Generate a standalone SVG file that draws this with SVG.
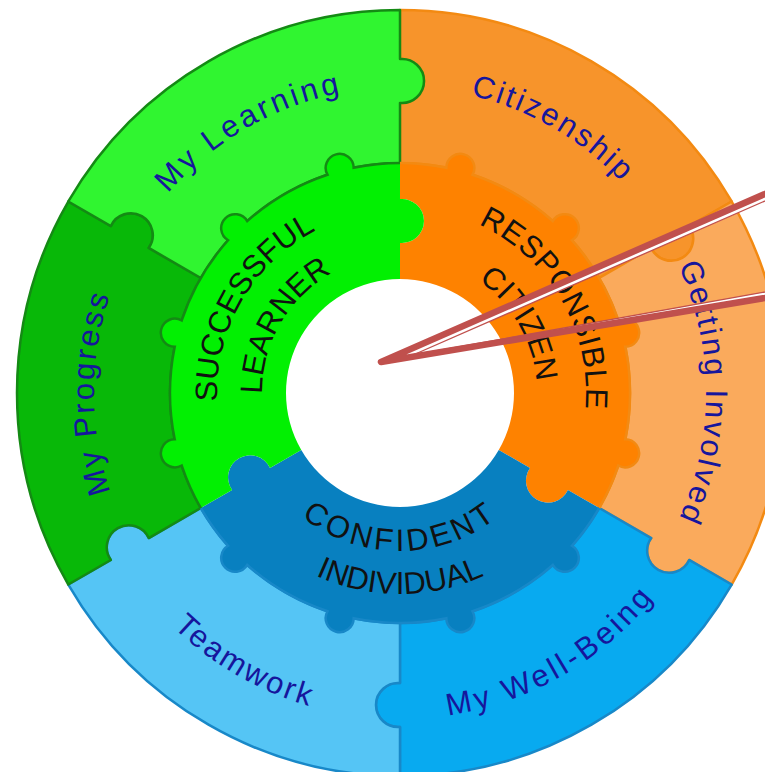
<svg xmlns="http://www.w3.org/2000/svg" xmlns:xlink="http://www.w3.org/1999/xlink" width="765" height="772" viewBox="0 0 765 772">
<style>
.ol{font-family:"Liberation Sans",Arial,sans-serif;font-size:31px;fill:#16169C;}
.il{font-family:"Liberation Sans",Arial,sans-serif;font-size:31px;fill:#111111;}
.gs{stroke:#148A14;stroke-width:2.5;stroke-linejoin:round;}
.os{stroke:#F38A12;stroke-width:2.5;stroke-linejoin:round;}
.bs{stroke:#1888C8;stroke-width:2.5;stroke-linejoin:round;}
.edge{fill:none;stroke-width:2.5;}
.red{fill:none;stroke:#C0504D;}
</style>
<defs>
<path id="outerPiece" d="M-191.5,-331.69 A383,383 0 0 1 191.5,-331.69 L166.96,-289.17 A22,22 0 1 1 145.05,-251.23 L115,-199.19 A230,230 0 0 0 -115,-199.19 L-145.05,-251.23 A22,22 0 1 0 -166.96,-289.17 Z"/>
<path id="innerPiece" d="M-199.19,-115 A230,230 0 0 1 -171.94,-152.76 A14,14 0 1 1 -152.76,-171.94 A230,230 0 0 1 -72.52,-218.27 A14,14 0 1 1 -46.33,-225.29 A230,230 0 0 1 46.33,-225.29 A14,14 0 1 1 72.52,-218.27 A230,230 0 0 1 152.76,-171.94 A14,14 0 1 1 171.94,-152.76 A230,230 0 0 1 199.19,-115 L167.93,-96.96 A22,22 0 1 1 129.98,-75.05 L98.73,-57 A114,114 0 0 0 -98.73,-57 L-129.98,-75.05 A22,22 0 1 0 -167.93,-96.96 Z"/>
<path id="innerEdge" d="M-199.19,-115 A230,230 0 0 1 -171.94,-152.76 A14,14 0 1 1 -152.76,-171.94 A230,230 0 0 1 -72.52,-218.27 A14,14 0 1 1 -46.33,-225.29 A230,230 0 0 1 46.33,-225.29 A14,14 0 1 1 72.52,-218.27 A230,230 0 0 1 152.76,-171.94 A14,14 0 1 1 171.94,-152.76 A230,230 0 0 1 199.19,-115"/>
<path id="arcLearning" d="M98.65,339.86 A306,306 0 0 1 504.66,105.45"/>
<path id="arcCitizenship" d="M295.34,105.45 A306,306 0 0 1 701.35,339.86"/>
<path id="arcInvolved" d="M596.69,158.59 A306,306 0 0 1 596.69,627.41"/>
<path id="arcProgress" d="M203.31,627.41 A306,306 0 0 1 203.31,158.59"/>
<path id="arcTeamwork" d="M78.95,449.61 A326,326 0 0 0 511.5,699.34"/>
<path id="arcWellBeing" d="M288.5,699.34 A326,326 0 0 0 721.05,449.61"/>
<path id="arcResponsible" d="M432.3,209.83 A186,186 0 0 1 574.78,456.62"/>
<path id="arcCitizen" d="M423.79,258.08 A137,137 0 0 1 528.74,439.86"/>
<path id="arcSuccessful" d="M228.04,455.59 A183,183 0 0 1 368.22,212.78"/>
<path id="arcLearner" d="M270.32,440.2 A138,138 0 0 1 376.04,257.1"/>
<path id="arcConfident" d="M278.97,494.56 A158,158 0 0 0 521.03,494.56"/>
<path id="arcIndividual" d="M246.03,522.2 A201,201 0 0 0 553.97,522.2"/>
</defs>
<rect x="0" y="0" width="765" height="772" fill="#FFFFFF"/>

<g id="citizenship">
<use xlink:href="#outerPiece" transform="translate(400,393) rotate(30)" fill="#F7942B" class="os"/>
<text class="ol" letter-spacing="2.4"><textPath xlink:href="#arcCitizenship" startOffset="50%" text-anchor="middle">Citizenship</textPath></text>
</g>
<g id="getting-involved">
<use xlink:href="#outerPiece" transform="translate(400,393) rotate(90)" fill="#FAAA5C" class="os"/>
<text class="ol" letter-spacing="2.4"><textPath xlink:href="#arcInvolved" startOffset="50%" text-anchor="middle">Getting Involved</textPath></text>
</g>
<g id="my-well-being">
<use xlink:href="#outerPiece" transform="translate(400,393) rotate(150)" fill="#08AAF0" class="bs"/>
<text class="ol" letter-spacing="3.5"><textPath xlink:href="#arcWellBeing" startOffset="50%" text-anchor="middle">My Well-Being</textPath></text>
</g>
<g id="teamwork">
<use xlink:href="#outerPiece" transform="translate(400,393) rotate(210)" fill="#55C5F5" class="bs"/>
<text class="ol" letter-spacing="2.4"><textPath xlink:href="#arcTeamwork" startOffset="50%" text-anchor="middle">Teamwork</textPath></text>
</g>
<g id="my-progress">
<use xlink:href="#outerPiece" transform="translate(400,393) rotate(-90)" fill="#08B808" class="gs"/>
<text class="ol" letter-spacing="2.5"><textPath xlink:href="#arcProgress" startOffset="50%" text-anchor="middle">My Progress</textPath></text>
</g>
<g id="my-learning">
<use xlink:href="#outerPiece" transform="translate(400,393) rotate(-30)" fill="#30F530" class="gs"/>
<text class="ol" letter-spacing="3.2"><textPath xlink:href="#arcLearning" startOffset="50%" text-anchor="middle">My Learning</textPath></text>
</g>

<g id="responsible-citizen">
<use xlink:href="#innerPiece" transform="translate(400,393) rotate(60)" fill="#FE8200"/>
<use xlink:href="#innerEdge" transform="translate(400,393) rotate(60)" class="edge" stroke="#F38A12"/>
<text class="il" letter-spacing="0.8"><textPath xlink:href="#arcResponsible" startOffset="50%" text-anchor="middle">RESPONSIBLE</textPath></text>
<text class="il"><textPath xlink:href="#arcCitizen" startOffset="50%" text-anchor="middle">CITIZEN</textPath></text>
</g>
<g id="confident-individual">
<use xlink:href="#innerPiece" transform="translate(400,393) rotate(180)" fill="#0880C0"/>
<use xlink:href="#innerEdge" transform="translate(400,393) rotate(180)" class="edge" stroke="#1888C8"/>
<text class="il" letter-spacing="3.5"><textPath xlink:href="#arcConfident" startOffset="50%" text-anchor="middle">CONFIDENT</textPath></text>
<text class="il"><textPath xlink:href="#arcIndividual" startOffset="50%" text-anchor="middle">INDIVIDUAL</textPath></text>
</g>
<g id="successful-learner">
<use xlink:href="#innerPiece" transform="translate(400,393) rotate(-60)" fill="#02F002"/>
<use xlink:href="#innerEdge" transform="translate(400,393) rotate(-60)" class="edge" stroke="#148A14"/>
<text class="il"><textPath xlink:href="#arcSuccessful" startOffset="50%" text-anchor="middle">SUCCESSFUL</textPath></text>
<text class="il"><textPath xlink:href="#arcLearner" startOffset="50%" text-anchor="middle">LEARNER</textPath></text>
</g>

<g id="connectors">
<polygon points="381,362 780,187.4 780,194.4 413,355 780,289.3 780,295.5" fill="#FFFFFF"/>
<path class="red" d="M780,187.4 L381,362 L780,295.5" stroke-width="6.5" stroke-linejoin="round"/>
<path class="red" d="M780,194.4 L413,355 L780,289.3" stroke-width="1.3"/>
</g>
</svg>
